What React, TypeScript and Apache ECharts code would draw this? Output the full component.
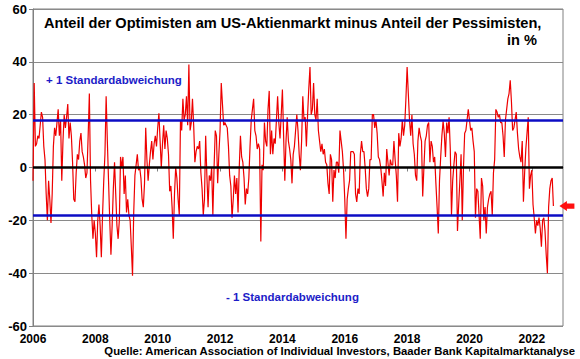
import React, { useEffect, useRef } from "react";
import * as echarts from "echarts";

// Bull-bear spread, roughly every two weeks (26 values per year)
const v2006 = [-5, 32, 8, 9, 12, 11, 16, 21, 19, 8, 3, -10, -20, -5, -12, -21, -10, 8, 15, 12, 17, 22, 12, 18, -5, 10];
const v2007 = [20, 15, 19, 24, 11, 17, 12, 2, -12, -13, -2, 5, 3, 10, 13, 6, 4, 1, -4, -2, 12, 28, -5, -18, -27, -20];
const v2008 = [-25, -34, -20, -14, -22, -34, -18, -5, 5, 27, 10, -5, -20, -33, -22, -8, 2, -10, -22, -27, -20, 4, 0, 4, -10, -3];
const v2009 = [-17, -12, -18, -20, -30, -41, -17, -3, 1, 5, -1, 0, -4, -12, -15, -6, 15, 3, -5, 1, 6, 10, 3, 9, 12, 8];
const v2010 = [15, 20.5, 10, 0, 9, 16, 7, 14, 11, 5, -9, -7, -15, -27, -10, 0, -4, -12, -18, 18, 14, 26, 18, 20, 27, 16];
const v2011 = [39, 14, 17, 26, 16, 2, 6, 8, 7, 10, -2, -8, -18, -12, 12, -3, -15, -3, -5, 0, -18, 0, 14, 12, -6, 5];
const v2012 = [14, 32, 24, 16, 17, 16, 15, 8, -3, -7, -19, -12, -3, -10, -4, -17, 0, 12, 4, 2, -4, -14, -8, -10, -4, 8];
const v2013 = [18, 22, 26, 14, 12, 7, 9, 7, -28, 1, -1, 17, 10, 8, 22, 29, 5, 14, 5, 11, 9, 18, 27, 17, 11, 20];
const v2014 = [29.5, 12, -5, 10, 19, 10, 7, 3, -6, 5, 8, 14, 20, 14, 5, -1, 10, 27, 18, 19, 8, 20, 30, 38, 20, 22];
const v2015 = [32, 20, 18, 26, 14, 10, 6, 9, 5, 7, 2, 1, -6, -10, 5, 3, -13, -1, -4, 2, 2, -2, 14, 10, 6, -1];
const v2016 = [-12, -27, -12, -8, -5, 6, 6, 6, 5, -10, -13, -8, -10, 5, 10, 6, 6, 0, -8, -11, -8, 3, 3, 20, 20, 15];
const v2017 = [18, 13, 4, 3, 0, -5, -11, -2, -7, 7, 2, -3, 3, 1, 1, 10, 3, -3, -13, 13, 8, 11, 18, 12, 16, 26];
const v2018 = [38, 28, 18, 12, 20, 9, 5, -3, -5, 10, 15, 12, 10, -11, 0, 10, 12, 16, 17, 2, 10, 8, 2, 4, -6, -15];
const v2019 = [-25, -5, 4, 12, 17.5, 13, 4, 17, 13, 19, 7, -18, -5, 1, 6, 5, -24, -14, -5, 5, -20, 0, 13, 14, 18, 22];
const v2020 = [18, 14, 15, 10, 6, -19, -8, -9, -18, -27, -4, -7, -20, -15, -25, -15, -12, -10, -9, -18, -2, 3, 22, 21, 19, 20];
const v2021 = [17, 17, 12, 4, 18, 22, 26, 28, 33, 25, 14, 15, 18, 21, 13, 7, 4, 2, 10, -13, -2, 7, 13, 19, -8, -3];
const v2022 = [-1, -14, -19, -25, -20, -22, -19, -23, -30, -20, -19, -24, -33, -40, -15, -8, -5, -4, -14.6];

const yearStarts = [2006, 2007, 2008, 2009, 2010, 2011, 2012, 2013, 2014, 2015, 2016, 2017, 2018, 2019, 2020, 2021, 2022];
const yearValues = [v2006, v2007, v2008, v2009, v2010, v2011, v2012, v2013, v2014, v2015, v2016, v2017, v2018, v2019, v2020, v2021, v2022];
const pointsPerYear = 26;

const stdDev = 18;
const yMin = -60;
const yMax = 60;
const yStep = 20;
const xMin = 2006;
const xMax = 2023;
const xStep = 2;

const titleLine1 = "Anteil der Optimisten am US-Aktienmarkt minus Anteil der Pessimisten,";
const titleLine2 = "in %";
const plusLabel = "+ 1 Standardabweichung";
const minusLabel = "- 1 Standardabweichung";
const sourceText = "Quelle: American Association of Individual Investors, Baader Bank Kapitalmarktanalyse";

const FONT = "'Liberation Sans', Arial, Helvetica, sans-serif";

export default function App() {
  const ref = useRef<HTMLDivElement>(null);

  useEffect(() => {
    if (!ref.current) return;
    const chart = echarts.init(ref.current, undefined, { renderer: "svg" });

    const data: number[][] = [];
    yearStarts.forEach((y, k) => {
      yearValues[k].forEach((v, i) => data.push([y + i / pointsPerYear, v]));
    });
    const last = data[data.length - 1];

    const blue = "#0c0cc4";
    const texts: any[] = [
      {
        type: "text", x: 44, y: 23,
        style: { text: titleLine1, fill: "#000", font: `bold 14.6px ${FONT}`, align: "left", verticalAlign: "middle" },
      },
      {
        type: "text", x: 537, y: 40,
        style: { text: titleLine2, fill: "#000", font: `bold 14.6px ${FONT}`, align: "right", verticalAlign: "middle" },
      },
      {
        type: "text", x: 46, y: 80,
        style: { text: plusLabel, fill: "#1c1cc8", font: `bold 11.5px ${FONT}`, align: "left", verticalAlign: "middle" },
      },
      {
        type: "text", x: 226, y: 297,
        style: { text: minusLabel, fill: "#1c1cc8", font: `bold 11.5px ${FONT}`, align: "left", verticalAlign: "middle" },
      },
      {
        type: "text", x: 575, y: 351,
        style: { text: sourceText, fill: "#000", font: `bold 11.3px ${FONT}`, align: "right", verticalAlign: "middle" },
      },
    ];

    const option: any = {
      animation: false,
      backgroundColor: "#ffffff",
      grid: {
        left: 33, right: 17, top: 9, bottom: 33,
        show: true, borderColor: "#808080", borderWidth: 1, backgroundColor: "transparent",
      },
      xAxis: {
        type: "value", min: xMin, max: xMax, interval: xStep,
        axisLine: { show: true, lineStyle: { color: "#808080", width: 1 } },
        axisTick: { show: true, length: 4, lineStyle: { color: "#808080" } },
        axisLabel: {
          color: "#000", fontFamily: FONT, fontWeight: "bold", fontSize: 12, margin: 7,
          showMaxLabel: false, formatter: (v: number) => String(v),
        },
        splitLine: { show: false },
      },
      yAxis: {
        type: "value", min: yMin, max: yMax, interval: yStep,
        axisLine: { show: true, lineStyle: { color: "#808080", width: 1 } },
        axisTick: { show: true, length: 4, lineStyle: { color: "#808080" } },
        axisLabel: { color: "#000", fontFamily: FONT, fontWeight: "bold", fontSize: 13, margin: 6 },
        splitLine: { show: true, lineStyle: { color: "#8a8a8a", width: 1 } },
      },
      series: [
        {
          type: "line",
          data,
          showSymbol: false,
          symbol: "none",
          lineStyle: { color: "#ee0000", width: 1.2 },
          itemStyle: { color: "#ee0000" },
          z: 2,
        },
        {
          type: "line",
          data: [],
          z: 3,
          markLine: {
            silent: true,
            symbol: "none",
            label: { show: false },
            data: [
              { yAxis: stdDev, lineStyle: { color: blue, width: 2.5, type: "solid" } },
              { yAxis: -stdDev, lineStyle: { color: blue, width: 2.5, type: "solid" } },
              { yAxis: 0, lineStyle: { color: "#000", width: 2.5, type: "solid" } },
            ],
          },
        },
      ],
      graphic: texts,
    };

    chart.setOption(option);

    const p = chart.convertToPixel({ gridIndex: 0 }, last) as number[];
    const px = p[0];
    const py = p[1];
    const arrow = {
      type: "polygon",
      shape: {
        points: [
          [px + 6, py], [px + 13.5, py - 5], [px + 13.5, py - 2.6], [px + 21, py - 2.6],
          [px + 21, py + 2.6], [px + 13.5, py + 2.6], [px + 13.5, py + 5],
        ],
      },
      style: { fill: "#ff1010" },
    };
    chart.setOption({ graphic: [...texts, arrow] });

    return () => chart.dispose();
  }, []);

  return (
    <div
      ref={ref}
      style={{ position: "fixed", left: 0, top: 0, width: 580, height: 359, background: "#fff" }}
    />
  );
}
